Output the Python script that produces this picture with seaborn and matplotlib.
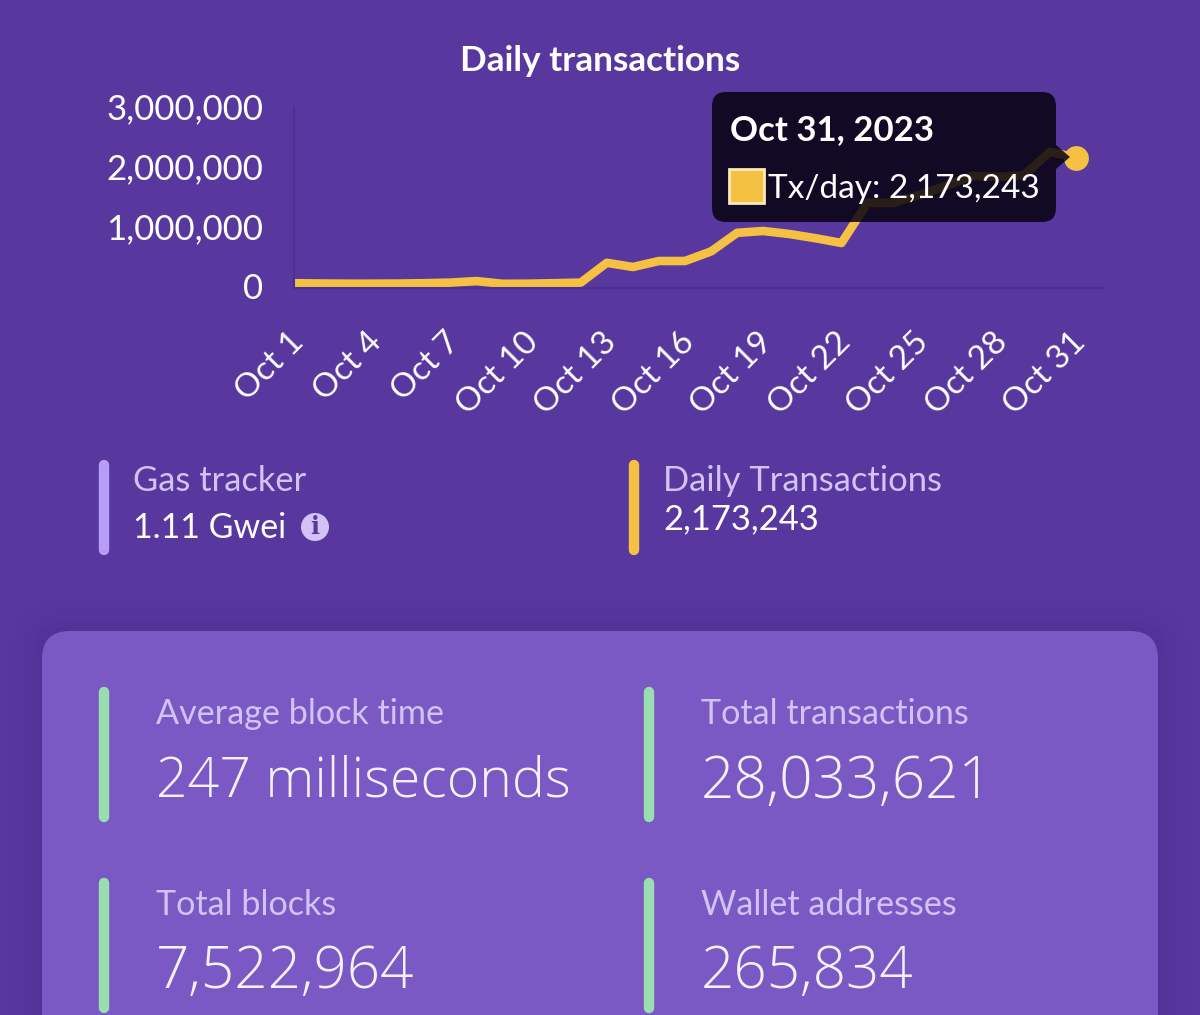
import pandas as pd
import seaborn as sns
import matplotlib
matplotlib.use('Agg')
import matplotlib.pyplot as plt
from matplotlib.patches import FancyBboxPatch, Polygon, Circle, Rectangle
from matplotlib.transforms import ScaledTranslation

days = list(range(1, 32))
tx_per_day = [80000, 75000, 72000, 72000, 74000, 80000, 90000, 115000, 70000, 72000,
              80000, 90000, 420000, 350000, 450000, 450000, 610000, 920000, 950000, 900000,
              830000, 750000, 1420000, 1420000, 1550000, 1700000, 1870000, 1850000, 1880000, 2270000,
              2173243]
tick_days = [1, 4, 7, 10, 13, 16, 19, 22, 25, 28, 31]
tick_labels = ['Oct 1', 'Oct 4', 'Oct 7', 'Oct 10', 'Oct 13', 'Oct 16', 'Oct 19', 'Oct 22', 'Oct 25', 'Oct 28', 'Oct 31']
y_ticks = [0, 1000000, 2000000, 3000000]

stats_top = [('Gas tracker', '1.11 Gwei', 133, '#B89DF7'), ('Daily Transactions', '2,173,243', 663, '#F4C142')]
stats_card = [('Average block time', '247 milliseconds', 156, 712, 782, 40),
              ('Total transactions', '28,033,621', 701, 712, 782, 42),
              ('Total blocks', '7,522,964', 156, 903, 972, 42),
              ('Wallet addresses', '265,834', 701, 903, 972, 42)]

BG = '#58379F'
CARD = '#7B59C4'
YELLOW = '#F4C142'
GREEN = '#9ADDB0'
LABEL = '#D3C3F5'
AXLINE = '#4E2F92'
W, H = 1200, 1015

sns.set_theme(style='white')
plt.rcParams['font.family'] = ['Lato', 'DejaVu Sans']

fig = plt.figure(figsize=(W / 100, H / 100), dpi=100, facecolor=BG)

# chart area, pixel box
ax = fig.add_axes([294 / W, 1 - 288 / H, 810 / W, 180 / H], facecolor='none', zorder=2)
df = pd.DataFrame({'day': days, 'tx': tx_per_day})
sns.lineplot(ax=ax, data=df, x='day', y='tx', color=YELLOW, linewidth=6.2, clip_on=False,
             solid_joinstyle='round', solid_capstyle='butt')
sns.scatterplot(ax=ax, data=df.tail(1), x='day', y='tx', color=YELLOW, s=320, linewidth=0, clip_on=False, zorder=3)
ax.set_xlim(1, 1 + 810 / 26.07)
ax.set_ylim(0, 3000000)
ax.set_xticks(tick_days)
ax.set_xticklabels(tick_labels, rotation=45, ha='right', rotation_mode='anchor', fontsize=24, color='white')
ax.set_yticks(y_ticks)
ax.set_yticklabels([f'{v:,}' for v in y_ticks], fontsize=25, color='white')
ax.tick_params(axis='x', length=0, pad=28)
ax.tick_params(axis='y', length=0, pad=22)
ax.set_xlabel('')
ax.set_ylabel('')
sns.despine(ax=ax)
for side in ['left', 'bottom']:
    ax.spines[side].set_color(AXLINE)
    ax.spines[side].set_linewidth(1.5)
shift = ScaledTranslation(-6 / 100, 0, fig.dpi_scale_trans)
for lab in ax.get_xticklabels():
    lab.set_transform(lab.get_transform() + shift)
lift = ScaledTranslation(0, 2 / 100, fig.dpi_scale_trans)
for lab in ax.get_yticklabels():
    lab.set_transform(lab.get_transform() + lift)

# everything else sits on a full figure overlay in pixels
ov = fig.add_axes([0, 0, 1, 1], facecolor='none', zorder=3)
ov.set_xlim(0, W)
ov.set_ylim(H, 0)
ov.axis('off')

ov.text(600, 61, 'Daily transactions', ha='center', va='center', fontsize=25.3, fontweight='bold', color='white')

# tooltip
tip = '#060310'
ov.add_patch(FancyBboxPatch((712, 92), 344, 130, boxstyle='round,pad=0,rounding_size=14', fc=tip, ec='none', alpha=0.85))
ov.add_patch(Polygon([(1056, 145), (1070, 157), (1056, 169)], fc=tip, ec='none', alpha=0.85))
ov.text(730, 130, 'Oct 31, 2023', ha='left', va='center', fontsize=25, fontweight='bold', color='white')
ov.add_patch(Rectangle((729, 169), 35, 34, fc=YELLOW, ec='#FBE9B8', lw=2))
ov.text(768, 189, 'Tx/day: 2,173,243', ha='left', va='center', fontsize=24, color='white')

# top stats
for label, value, x, col in stats_top:
    ov.plot([x - 29, x - 29], [465, 550], color=col, lw=7.5, solid_capstyle='round')
    ov.text(x, 481, label, ha='left', va='center', fontsize=24.8, color=LABEL)
ov.text(133, 528, stats_top[0][1], ha='left', va='center', fontsize=24.5, color='white')
ov.text(663, 519, stats_top[1][1], ha='left', va='center', fontsize=24.8, color='white')
ov.add_patch(Circle((315, 527), 14, fc=LABEL, ec='none'))
ov.text(315, 527, 'i', ha='center', va='center', fontsize=17, fontweight='bold', family='DejaVu Serif', color=BG)

# card with a soft shadow
for grow, a in [(34, 0.02), (26, 0.025), (18, 0.03), (10, 0.04), (4, 0.05)]:
    ov.add_patch(FancyBboxPatch((42 - grow, 631 - grow), 1116 + 2 * grow, 500, boxstyle=f'round,pad=0,rounding_size={28 + grow}',
                                fc='#3A2080', ec='none', alpha=a))
ov.add_patch(FancyBboxPatch((42, 631), 1116, 500, boxstyle='round,pad=0,rounding_size=28', fc=CARD, ec='none'))
for label, value, x, y1, y2, size in stats_card:
    ov.plot([x - 52, x - 52], [y1 - 20, y1 + 105], color=GREEN, lw=7.5, solid_capstyle='round')
    ov.text(x, y1 + 2, label, ha='left', va='center', fontsize=24.6, color=LABEL)
    ov.text(x, y2, value, ha='left', va='center', fontsize=size, fontfamily='Open Sans', fontweight='light', color='#F4F0FC')

fig.savefig('out.png', dpi=100, facecolor=BG)
